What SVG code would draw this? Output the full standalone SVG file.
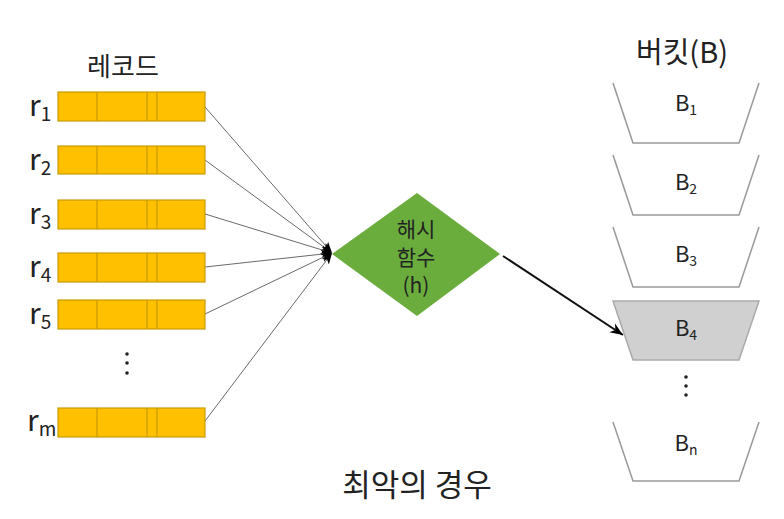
<svg xmlns="http://www.w3.org/2000/svg" width="784" height="519" viewBox="0 0 784 519">
<defs>
<style>
text{font-family:"Noto Sans CJK KR","Noto Sans",sans-serif;fill:#222}
.rec{fill:#FFC000;stroke:#C99A00;stroke-width:1.2}
.div{stroke:#C99A00;stroke-width:1.2}
.lbl{font-size:30px}
.sub{font-size:19px}
.bk{fill:none;stroke:#999;stroke-width:1.5}
.bt{font-size:22px;text-anchor:middle}
.bs{font-size:14px}
.ln{stroke:#6a6a6a;stroke-width:1;fill:none}
.dot{fill:#222}
</style>
<marker id="ah" viewBox="0 0 10 10" refX="10" refY="5" markerWidth="11" markerHeight="11" orient="auto" markerUnits="userSpaceOnUse">
<path d="M0,1 L10,5 L0,9 L2.5,5 Z" fill="#000"/>
</marker>
<marker id="ah2" viewBox="0 0 10 10" refX="10" refY="5" markerWidth="13" markerHeight="13" orient="auto" markerUnits="userSpaceOnUse">
<path d="M0,1 L10,5 L0,9 L3,5 Z" fill="#000"/>
</marker>
</defs>
<rect width="784" height="519" fill="#fff"/>
<text x="123" y="76" font-size="26" text-anchor="middle">레코드</text>
<text x="682" y="63" font-size="29" text-anchor="middle">버킷(B)</text>
<text x="417" y="496" font-size="31" text-anchor="middle">최악의 경우</text>

<g id="connectors">
<line class="ln" x1="205" y1="107" x2="332" y2="253" marker-end="url(#ah)"/>
<line class="ln" x1="205" y1="160" x2="332" y2="253" marker-end="url(#ah)"/>
<line class="ln" x1="205" y1="214" x2="332" y2="253" marker-end="url(#ah)"/>
<line class="ln" x1="205" y1="267" x2="332" y2="253" marker-end="url(#ah)"/>
<line class="ln" x1="205" y1="314" x2="332" y2="253" marker-end="url(#ah)"/>
<line class="ln" x1="205" y1="421" x2="332" y2="253" marker-end="url(#ah)"/>
<line x1="503" y1="256" x2="623" y2="335" stroke="#111" stroke-width="2" marker-end="url(#ah2)"/>
</g>

<g id="r1"><rect class="rec" x="58" y="92" width="147" height="29"/><line class="div" x1="97" y1="92" x2="97" y2="121"/><line class="div" x1="147" y1="92" x2="147" y2="121"/><line class="div" x1="157" y1="92" x2="157" y2="121"/><text class="lbl" x="29" y="116">r<tspan class="sub" dy="5">1</tspan></text></g>
<g id="r2"><rect class="rec" x="58" y="146" width="147" height="28"/><line class="div" x1="97" y1="146" x2="97" y2="174"/><line class="div" x1="147" y1="146" x2="147" y2="174"/><line class="div" x1="157" y1="146" x2="157" y2="174"/><text class="lbl" x="29" y="170">r<tspan class="sub" dy="5">2</tspan></text></g>
<g id="r3"><rect class="rec" x="58" y="200" width="147" height="29"/><line class="div" x1="97" y1="200" x2="97" y2="229"/><line class="div" x1="147" y1="200" x2="147" y2="229"/><line class="div" x1="157" y1="200" x2="157" y2="229"/><text class="lbl" x="29" y="224">r<tspan class="sub" dy="5">3</tspan></text></g>
<g id="r4"><rect class="rec" x="58" y="253" width="147" height="29"/><line class="div" x1="97" y1="253" x2="97" y2="282"/><line class="div" x1="147" y1="253" x2="147" y2="282"/><line class="div" x1="157" y1="253" x2="157" y2="282"/><text class="lbl" x="29" y="277">r<tspan class="sub" dy="5">4</tspan></text></g>
<g id="r5"><rect class="rec" x="58" y="300" width="147" height="29"/><line class="div" x1="97" y1="300" x2="97" y2="329"/><line class="div" x1="147" y1="300" x2="147" y2="329"/><line class="div" x1="157" y1="300" x2="157" y2="329"/><text class="lbl" x="29" y="324">r<tspan class="sub" dy="5">5</tspan></text></g>
<g id="rdots"><circle class="dot" cx="127" cy="354" r="1.8"/><circle class="dot" cx="127" cy="363" r="1.8"/><circle class="dot" cx="127" cy="373" r="1.8"/></g>
<g id="rm"><rect class="rec" x="58" y="408" width="147" height="29"/><line class="div" x1="97" y1="408" x2="97" y2="437"/><line class="div" x1="147" y1="408" x2="147" y2="437"/><line class="div" x1="157" y1="408" x2="157" y2="437"/><text class="lbl" x="27" y="431">r<tspan class="sub" dy="5">m</tspan></text></g>

<g id="hash">
<polygon points="332,254 417,193 500,254 417,316" fill="#6AAD3D"/>
<text x="416" y="237" font-size="21" text-anchor="middle">해시</text>
<text x="416" y="265" font-size="21" text-anchor="middle">함수</text>
<text x="416" y="293" font-size="21" text-anchor="middle">(h)</text>
</g>

<g id="B1"><polyline class="bk" points="613,83 633,143 739,143 759,83"/><text class="bt" x="686" y="111">B<tspan class="bs" dy="4">1</tspan></text></g>
<g id="B2"><polyline class="bk" points="613,155 633,215 739,215 759,155"/><text class="bt" x="686" y="190">B<tspan class="bs" dy="4">2</tspan></text></g>
<g id="B3"><polyline class="bk" points="613,227 633,287 739,287 759,227"/><text class="bt" x="686" y="262">B<tspan class="bs" dy="4">3</tspan></text></g>
<g id="B4"><polygon points="613,301 759,301 739,360 633,360" fill="#D0D0D0" stroke="#AAA" stroke-width="1.5"/><text class="bt" x="686" y="336">B<tspan class="bs" dy="4">4</tspan></text></g>
<g id="bdots"><circle class="dot" cx="686" cy="377" r="1.8"/><circle class="dot" cx="686" cy="386" r="1.8"/><circle class="dot" cx="686" cy="395" r="1.8"/></g>
<g id="Bn"><polyline class="bk" points="613,422 633,481 739,481 759,422"/><text class="bt" x="686" y="451">B<tspan class="bs" dy="4">n</tspan></text></g>
</svg>
